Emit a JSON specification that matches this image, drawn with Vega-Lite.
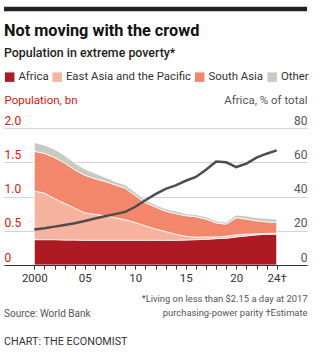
{
  "$schema": "https://vega.github.io/schema/vega-lite/v6.json",
  "width": 303,
  "height": 137,
  "autosize": {"type": "none"},
  "padding": {"left": 4, "top": 128, "right": 20, "bottom": 89},
  "background": "white",
  "config": {"view": {"stroke": null}, "font": "Roboto"},
  "title": {
    "text": "Not moving with the crowd",
    "subtitle": "Population in extreme poverty*",
    "anchor": "start",
    "frame": "group",
    "fontSize": 16.3,
    "fontWeight": "bold",
    "color": "#111111",
    "subtitleFontSize": 12.4,
    "subtitleFontWeight": 500,
    "subtitleColor": "#222222",
    "subtitlePadding": 8,
    "offset": -53
  },
  "datasets": {
    "areas": [
      {"year": 2000, "region": "Africa", "bn": 0.37, "o": 1}, {"year": 2000, "region": "East Asia and the Pacific", "bn": 0.71, "o": 2}, {"year": 2000, "region": "South Asia", "bn": 0.58, "o": 3}, {"year": 2000, "region": "Other", "bn": 0.13, "o": 4},
      {"year": 2001, "region": "Africa", "bn": 0.37, "o": 1}, {"year": 2001, "region": "East Asia and the Pacific", "bn": 0.68, "o": 2}, {"year": 2001, "region": "South Asia", "bn": 0.58, "o": 3}, {"year": 2001, "region": "Other", "bn": 0.12, "o": 4},
      {"year": 2002, "region": "Africa", "bn": 0.37, "o": 1}, {"year": 2002, "region": "East Asia and the Pacific", "bn": 0.6, "o": 2}, {"year": 2002, "region": "South Asia", "bn": 0.6, "o": 3}, {"year": 2002, "region": "Other", "bn": 0.12, "o": 4},
      {"year": 2003, "region": "Africa", "bn": 0.365, "o": 1}, {"year": 2003, "region": "East Asia and the Pacific", "bn": 0.535, "o": 2}, {"year": 2003, "region": "South Asia", "bn": 0.59, "o": 3}, {"year": 2003, "region": "Other", "bn": 0.11, "o": 4},
      {"year": 2004, "region": "Africa", "bn": 0.365, "o": 1}, {"year": 2004, "region": "East Asia and the Pacific", "bn": 0.465, "o": 2}, {"year": 2004, "region": "South Asia", "bn": 0.56, "o": 3}, {"year": 2004, "region": "Other", "bn": 0.1, "o": 4},
      {"year": 2005, "region": "Africa", "bn": 0.36, "o": 1}, {"year": 2005, "region": "East Asia and the Pacific", "bn": 0.4, "o": 2}, {"year": 2005, "region": "South Asia", "bn": 0.55, "o": 3}, {"year": 2005, "region": "Other", "bn": 0.09, "o": 4},
      {"year": 2006, "region": "Africa", "bn": 0.36, "o": 1}, {"year": 2006, "region": "East Asia and the Pacific", "bn": 0.38, "o": 2}, {"year": 2006, "region": "South Asia", "bn": 0.52, "o": 3}, {"year": 2006, "region": "Other", "bn": 0.08, "o": 4},
      {"year": 2007, "region": "Africa", "bn": 0.36, "o": 1}, {"year": 2007, "region": "East Asia and the Pacific", "bn": 0.36, "o": 2}, {"year": 2007, "region": "South Asia", "bn": 0.5, "o": 3}, {"year": 2007, "region": "Other", "bn": 0.06, "o": 4},
      {"year": 2008, "region": "Africa", "bn": 0.36, "o": 1}, {"year": 2008, "region": "East Asia and the Pacific", "bn": 0.33, "o": 2}, {"year": 2008, "region": "South Asia", "bn": 0.48, "o": 3}, {"year": 2008, "region": "Other", "bn": 0.05, "o": 4},
      {"year": 2009, "region": "Africa", "bn": 0.36, "o": 1}, {"year": 2009, "region": "East Asia and the Pacific", "bn": 0.3, "o": 2}, {"year": 2009, "region": "South Asia", "bn": 0.46, "o": 3}, {"year": 2009, "region": "Other", "bn": 0.05, "o": 4},
      {"year": 2010, "region": "Africa", "bn": 0.36, "o": 1}, {"year": 2010, "region": "East Asia and the Pacific", "bn": 0.26, "o": 2}, {"year": 2010, "region": "South Asia", "bn": 0.395, "o": 3}, {"year": 2010, "region": "Other", "bn": 0.045, "o": 4},
      {"year": 2011, "region": "Africa", "bn": 0.36, "o": 1}, {"year": 2011, "region": "East Asia and the Pacific", "bn": 0.21, "o": 2}, {"year": 2011, "region": "South Asia", "bn": 0.34, "o": 3}, {"year": 2011, "region": "Other", "bn": 0.04, "o": 4},
      {"year": 2012, "region": "Africa", "bn": 0.36, "o": 1}, {"year": 2012, "region": "East Asia and the Pacific", "bn": 0.165, "o": 2}, {"year": 2012, "region": "South Asia", "bn": 0.32, "o": 3}, {"year": 2012, "region": "Other", "bn": 0.035, "o": 4},
      {"year": 2013, "region": "Africa", "bn": 0.36, "o": 1}, {"year": 2013, "region": "East Asia and the Pacific", "bn": 0.13, "o": 2}, {"year": 2013, "region": "South Asia", "bn": 0.295, "o": 3}, {"year": 2013, "region": "Other", "bn": 0.035, "o": 4},
      {"year": 2014, "region": "Africa", "bn": 0.36, "o": 1}, {"year": 2014, "region": "East Asia and the Pacific", "bn": 0.09, "o": 2}, {"year": 2014, "region": "South Asia", "bn": 0.3, "o": 3}, {"year": 2014, "region": "Other", "bn": 0.04, "o": 4},
      {"year": 2015, "region": "Africa", "bn": 0.365, "o": 1}, {"year": 2015, "region": "East Asia and the Pacific", "bn": 0.055, "o": 2}, {"year": 2015, "region": "South Asia", "bn": 0.3, "o": 3}, {"year": 2015, "region": "Other", "bn": 0.03, "o": 4},
      {"year": 2016, "region": "Africa", "bn": 0.37, "o": 1}, {"year": 2016, "region": "East Asia and the Pacific", "bn": 0.035, "o": 2}, {"year": 2016, "region": "South Asia", "bn": 0.3, "o": 3}, {"year": 2016, "region": "Other", "bn": 0.03, "o": 4},
      {"year": 2017, "region": "Africa", "bn": 0.375, "o": 1}, {"year": 2017, "region": "East Asia and the Pacific", "bn": 0.035, "o": 2}, {"year": 2017, "region": "South Asia", "bn": 0.26, "o": 3}, {"year": 2017, "region": "Other", "bn": 0.035, "o": 4},
      {"year": 2018, "region": "Africa", "bn": 0.385, "o": 1}, {"year": 2018, "region": "East Asia and the Pacific", "bn": 0.025, "o": 2}, {"year": 2018, "region": "South Asia", "bn": 0.205, "o": 3}, {"year": 2018, "region": "Other", "bn": 0.03, "o": 4},
      {"year": 2019, "region": "Africa", "bn": 0.39, "o": 1}, {"year": 2019, "region": "East Asia and the Pacific", "bn": 0.03, "o": 2}, {"year": 2019, "region": "South Asia", "bn": 0.175, "o": 3}, {"year": 2019, "region": "Other", "bn": 0.03, "o": 4},
      {"year": 2020, "region": "Africa", "bn": 0.41, "o": 1}, {"year": 2020, "region": "East Asia and the Pacific", "bn": 0.03, "o": 2}, {"year": 2020, "region": "South Asia", "bn": 0.25, "o": 3}, {"year": 2020, "region": "Other", "bn": 0.04, "o": 4},
      {"year": 2021, "region": "Africa", "bn": 0.425, "o": 1}, {"year": 2021, "region": "East Asia and the Pacific", "bn": 0.025, "o": 2}, {"year": 2021, "region": "South Asia", "bn": 0.22, "o": 3}, {"year": 2021, "region": "Other", "bn": 0.045, "o": 4},
      {"year": 2022, "region": "Africa", "bn": 0.44, "o": 1}, {"year": 2022, "region": "East Asia and the Pacific", "bn": 0.015, "o": 2}, {"year": 2022, "region": "South Asia", "bn": 0.19, "o": 3}, {"year": 2022, "region": "Other", "bn": 0.045, "o": 4},
      {"year": 2023, "region": "Africa", "bn": 0.45, "o": 1}, {"year": 2023, "region": "East Asia and the Pacific", "bn": 0.01, "o": 2}, {"year": 2023, "region": "South Asia", "bn": 0.17, "o": 3}, {"year": 2023, "region": "Other", "bn": 0.05, "o": 4},
      {"year": 2024, "region": "Africa", "bn": 0.45, "o": 1}, {"year": 2024, "region": "East Asia and the Pacific", "bn": 0.015, "o": 2}, {"year": 2024, "region": "South Asia", "bn": 0.155, "o": 3}, {"year": 2024, "region": "Other", "bn": 0.05, "o": 4}
    ],
    "share": [
      {"year": 2000, "pct": 20.7}, {"year": 2001, "pct": 21.4}, {"year": 2002, "pct": 22.4}, {"year": 2003, "pct": 23.4},
      {"year": 2004, "pct": 24.4}, {"year": 2005, "pct": 25.7}, {"year": 2006, "pct": 27.2}, {"year": 2007, "pct": 28.5},
      {"year": 2008, "pct": 29.7}, {"year": 2009, "pct": 31.0}, {"year": 2010, "pct": 34.0}, {"year": 2011, "pct": 37.8},
      {"year": 2012, "pct": 41.4}, {"year": 2013, "pct": 44.5}, {"year": 2014, "pct": 46.5}, {"year": 2015, "pct": 49.2},
      {"year": 2016, "pct": 51.4}, {"year": 2017, "pct": 55.6}, {"year": 2018, "pct": 60.4}, {"year": 2019, "pct": 60.0},
      {"year": 2020, "pct": 57.2}, {"year": 2021, "pct": 59.2}, {"year": 2022, "pct": 62.7}, {"year": 2023, "pct": 65.0},
      {"year": 2024, "pct": 66.9}
    ]
  },
  "encoding": {
    "x": {
      "field": "year", "type": "quantitative",
      "scale": {"domain": [1997, 2027], "nice": false, "zero": false},
      "axis": {
        "values": [2000, 2001, 2002, 2003, 2004, 2005, 2006, 2007, 2008, 2009, 2010, 2011, 2012, 2013, 2014, 2015, 2016, 2017, 2018, 2019, 2020, 2021, 2022, 2023, 2024],
        "labelExpr": "datum.value == 2000 ? '2000' : datum.value == 2005 ? '05' : datum.value == 2010 ? '10' : datum.value == 2015 ? '15' : datum.value == 2020 ? '20' : datum.value == 2024 ? '24†' : ''",
        "grid": false,
        "zindex": 2,
        "domainColor": "#333333",
        "domainWidth": 1,
        "tickColor": "#333333",
        "tickSize": 4,
        "tickWidth": 1,
        "labelFontSize": 11.5,
        "labelColor": "#333333",
        "labelPadding": 3,
        "labelOverlap": false,
        "labelFlush": false,
        "labelBound": false,
        "title": ["*Living on less than $2.15 a day at 2017", "purchasing-power parity    †Estimate"],
        "titleFontSize": 9.4,
        "titleFontWeight": "normal",
        "titleColor": "#555555",
        "titleAlign": "right",
        "titleAnchor": "end",
        "titleBaseline": "top",
        "titleLineHeight": 14,
        "titleX": 303,
        "titleY": 29
      }
    }
  },
  "layer": [
    {
      "data": {"name": "areas"},
      "mark": {"type": "area", "stroke": "white", "strokeWidth": 0.8},
      "encoding": {
        "y": {
          "field": "bn", "type": "quantitative", "stack": "zero",
          "scale": {"domain": [0, 2], "nice": false},
          "axis": {
            "orient": "left",
            "values": [0, 0.5, 1, 1.5, 2],
            "labelExpr": "datum.value == 0 ? '0' : format(datum.value, '.1f')",
            "grid": true,
            "gridColor": "#d4d4d4",
            "gridWidth": 1,
            "domain": false,
            "ticks": false,
            "tickSize": 0,
            "labelAlign": "left",
            "labelBaseline": "bottom",
            "labelPadding": 0,
            "labelOffset": -1,
            "labelFontSize": 12,
            "labelColor": "#E3120B",
            "title": "Population, bn",
            "titleAngle": 0,
            "titleAlign": "left",
            "titleBaseline": "middle",
            "titleX": 0,
            "titleY": -28,
            "titleFontSize": 11.5,
            "titleFontWeight": "normal",
            "titleColor": "#E3120B"
          }
        },
        "color": {
          "field": "region", "type": "nominal",
          "scale": {
            "domain": ["Africa", "East Asia and the Pacific", "South Asia", "Other"],
            "range": ["#AE1A24", "#F7B3A0", "#F3876C", "#C8CAC0"]
          },
          "legend": {
            "orient": "none",
            "legendX": 0,
            "legendY": -57,
            "direction": "horizontal",
            "title": null,
            "symbolType": "square",
            "symbolSize": 90,
            "symbolStrokeWidth": 0,
            "labelFontSize": 11.4,
            "labelColor": "#333333",
            "labelOffset": 3,
            "columnPadding": 2.5
          }
        },
        "order": {"field": "o", "type": "quantitative"}
      }
    },
    {
      "data": {"name": "share"},
      "mark": {"type": "line", "color": "#4d4d4d", "strokeWidth": 2.5},
      "encoding": {
        "y": {
          "field": "pct", "type": "quantitative",
          "scale": {"domain": [0, 80], "nice": false},
          "axis": {
            "orient": "right",
            "values": [0, 20, 40, 60, 80],
            "grid": false,
            "domain": false,
            "ticks": false,
            "tickSize": 0,
            "labelAlign": "right",
            "labelBaseline": "bottom",
            "labelPadding": 0,
            "labelOffset": -1,
            "labelFontSize": 12,
            "labelColor": "#555555",
            "title": "Africa, % of total",
            "titleAngle": 0,
            "titleAlign": "right",
            "titleBaseline": "middle",
            "titleX": 0,
            "titleY": -28,
            "titleFontSize": 11.5,
            "titleFontWeight": "normal",
            "titleColor": "#555555"
          }
        }
      }
    },
    {
      "data": {"values": [{}]},
      "mark": {"type": "rule", "color": "#222222", "strokeWidth": 4.5},
      "encoding": {"x": {"value": 0}, "x2": {"value": 303}, "y": {"value": -119}}
    },
    {
      "data": {"values": [{}]},
      "mark": {"type": "text", "text": "Source: World Bank", "align": "left", "baseline": "middle", "fontSize": 10, "color": "#555555"},
      "encoding": {"x": {"value": 0}, "y": {"value": 186}}
    },
    {
      "data": {"values": [{}]},
      "mark": {"type": "text", "text": "CHART: THE ECONOMIST", "align": "left", "baseline": "middle", "fontSize": 10.8, "color": "#333333"},
      "encoding": {"x": {"value": 0}, "y": {"value": 214}}
    }
  ],
  "resolve": {"scale": {"y": "independent", "color": "independent"}}
}
